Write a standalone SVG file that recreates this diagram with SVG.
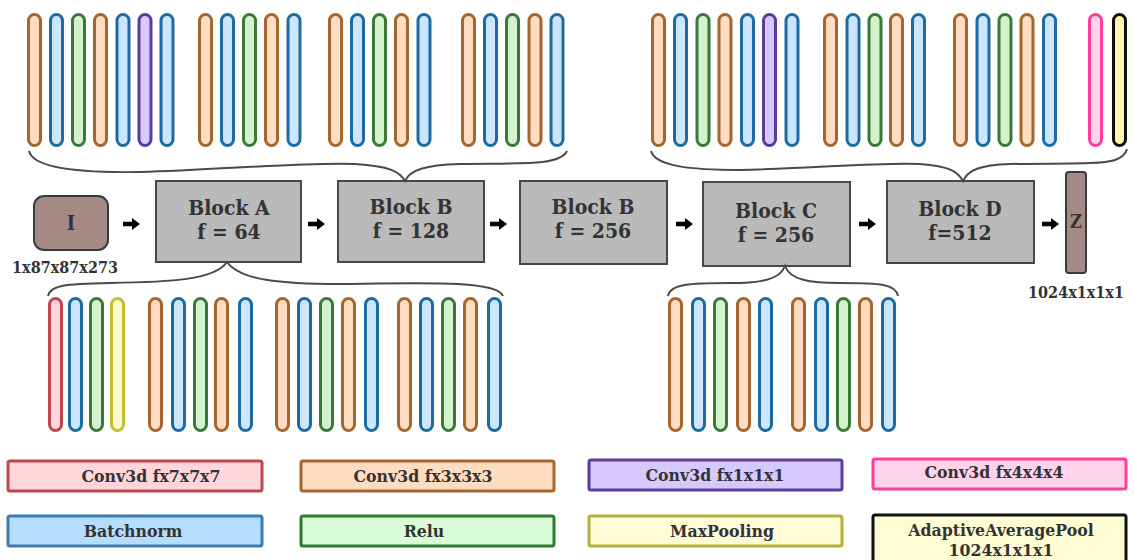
<svg xmlns="http://www.w3.org/2000/svg" width="1134" height="560" viewBox="0 0 1134 560">
<style>
text{font-family:"DejaVu Serif Condensed","DejaVu Serif","Liberation Serif",serif;font-stretch:condensed;font-weight:bold;fill:#333;text-anchor:middle}
.bar{stroke-width:3}
.o{fill:#ffdcc2;stroke:#a3672f}
.b{fill:#cce7fd;stroke:#1e6ba3}
.g{fill:#d3f3cf;stroke:#3b783a}
.p{fill:#d6c9ff;stroke:#5a3c9a}
.r{fill:#ffd6dc;stroke:#c0464f}
.y{fill:#fffbcf;stroke:#c3bd3a}
.k{fill:#ffd3ea;stroke:#ff3fa0}
.z{fill:#fdf6ae;stroke:#111}
.blk{fill:#bababa;stroke:#474747;stroke-width:2}
.t1{font-size:21px}
.leg{stroke-width:3}
.lt{font-size:17.5px}
.brace{fill:none;stroke:#4a4a4a;stroke-width:2}
.arr{fill:#000}
</style>
<defs>
<rect id="barT" x="0" y="0" width="12" height="131" rx="6"/>
<rect id="barB" x="0" y="0" width="12" height="132" rx="6"/>
<path id="ar" d="M0,-2.2 L9,-2.2 L9,-6 L17,0 L9,6 L9,2.2 L0,2.2 Z"/>
</defs>

<g id="top-left-layers" class="bar">
<use href="#barT" class="o" x="28.5" y="14.5"/>
<use href="#barT" class="b" x="50.5" y="14.5"/>
<use href="#barT" class="g" x="72.5" y="14.5"/>
<use href="#barT" class="o" x="94.5" y="14.5"/>
<use href="#barT" class="b" x="117" y="14.5"/>
<use href="#barT" class="p" x="139" y="14.5"/>
<use href="#barT" class="b" x="161" y="14.5"/>
<use href="#barT" class="o" x="199.5" y="14.5"/>
<use href="#barT" class="b" x="221.5" y="14.5"/>
<use href="#barT" class="g" x="243.5" y="14.5"/>
<use href="#barT" class="o" x="265.5" y="14.5"/>
<use href="#barT" class="b" x="288" y="14.5"/>
<use href="#barT" class="o" x="329.5" y="14.5"/>
<use href="#barT" class="b" x="351.5" y="14.5"/>
<use href="#barT" class="g" x="373.5" y="14.5"/>
<use href="#barT" class="o" x="395.5" y="14.5"/>
<use href="#barT" class="b" x="418" y="14.5"/>
<use href="#barT" class="o" x="462.5" y="14.5"/>
<use href="#barT" class="b" x="484.5" y="14.5"/>
<use href="#barT" class="g" x="506.5" y="14.5"/>
<use href="#barT" class="o" x="529" y="14.5"/>
<use href="#barT" class="b" x="551" y="14.5"/>
</g>

<g id="top-right-layers" class="bar">
<use href="#barT" class="o" x="652.5" y="14.5"/>
<use href="#barT" class="b" x="674.5" y="14.5"/>
<use href="#barT" class="g" x="697" y="14.5"/>
<use href="#barT" class="o" x="719" y="14.5"/>
<use href="#barT" class="b" x="741.5" y="14.5"/>
<use href="#barT" class="p" x="763.5" y="14.5"/>
<use href="#barT" class="b" x="786" y="14.5"/>
<use href="#barT" class="o" x="824.5" y="14.5"/>
<use href="#barT" class="b" x="847" y="14.5"/>
<use href="#barT" class="g" x="869" y="14.5"/>
<use href="#barT" class="o" x="890.5" y="14.5"/>
<use href="#barT" class="b" x="912.5" y="14.5"/>
<use href="#barT" class="o" x="954.5" y="14.5"/>
<use href="#barT" class="b" x="977" y="14.5"/>
<use href="#barT" class="g" x="999" y="14.5"/>
<use href="#barT" class="o" x="1021" y="14.5"/>
<use href="#barT" class="b" x="1043.5" y="14.5"/>
<use href="#barT" class="k" x="1089.5" y="14.5"/>
<use href="#barT" class="z" x="1113.5" y="14.5"/>
</g>

<g id="bottom-left-layers" class="bar">
<use href="#barB" class="r" x="49.5" y="298.5"/>
<use href="#barB" class="b" x="69.5" y="298.5"/>
<use href="#barB" class="g" x="90.5" y="298.5"/>
<use href="#barB" class="y" x="111.5" y="298.5"/>
<use href="#barB" class="o" x="149.5" y="298.5"/>
<use href="#barB" class="b" x="172.5" y="298.5"/>
<use href="#barB" class="g" x="194.5" y="298.5"/>
<use href="#barB" class="o" x="215.5" y="298.5"/>
<use href="#barB" class="b" x="239.5" y="298.5"/>
<use href="#barB" class="o" x="276.5" y="298.5"/>
<use href="#barB" class="b" x="298.5" y="298.5"/>
<use href="#barB" class="g" x="320.5" y="298.5"/>
<use href="#barB" class="o" x="342.5" y="298.5"/>
<use href="#barB" class="b" x="365.5" y="298.5"/>
<use href="#barB" class="o" x="398.5" y="298.5"/>
<use href="#barB" class="b" x="420.5" y="298.5"/>
<use href="#barB" class="g" x="442.5" y="298.5"/>
<use href="#barB" class="o" x="464.5" y="298.5"/>
<use href="#barB" class="b" x="488.5" y="298.5"/>
</g>

<g id="bottom-right-layers" class="bar">
<use href="#barB" class="o" x="669.5" y="298.5"/>
<use href="#barB" class="b" x="692.5" y="298.5"/>
<use href="#barB" class="g" x="714.5" y="298.5"/>
<use href="#barB" class="o" x="737.5" y="298.5"/>
<use href="#barB" class="b" x="759.5" y="298.5"/>
<use href="#barB" class="o" x="792.5" y="298.5"/>
<use href="#barB" class="b" x="815.5" y="298.5"/>
<use href="#barB" class="g" x="837.5" y="298.5"/>
<use href="#barB" class="o" x="859.5" y="298.5"/>
<use href="#barB" class="b" x="882.5" y="298.5"/>
</g>

<g id="node-I">
<rect x="34" y="196" width="74" height="54" rx="10" fill="#a58985" stroke="#3a3a3a" stroke-width="2"/>
<text x="71" y="230" font-size="20">I</text>
<text x="65" y="273" font-size="16">1x87x87x273</text>
</g>
<g id="node-blockA">
<rect class="blk" x="156" y="181" width="145" height="81"/>
<text class="t1" x="229" y="215">Block A</text>
<text class="t1" x="229" y="239">f = 64</text>
</g>
<g id="node-blockB1">
<rect class="blk" x="338" y="181" width="146" height="81"/>
<text class="t1" x="411" y="214">Block B</text>
<text class="t1" x="411" y="238">f = 128</text>
</g>
<g id="node-blockB2">
<rect class="blk" x="520" y="181" width="147" height="83"/>
<text class="t1" x="593" y="214">Block B</text>
<text class="t1" x="593" y="238">f = 256</text>
</g>
<g id="node-blockC">
<rect class="blk" x="703" y="182" width="147" height="84"/>
<text class="t1" x="776" y="218">Block C</text>
<text class="t1" x="776" y="242">f = 256</text>
</g>
<g id="node-blockD">
<rect class="blk" x="887" y="181" width="147" height="82"/>
<text class="t1" x="960" y="216">Block D</text>
<text class="t1" x="960" y="240">f=512</text>
</g>
<g id="node-Z">
<rect x="1066" y="172" width="20" height="101" rx="3" fill="#a58985" stroke="#3a3a3a" stroke-width="2"/>
<text x="1076" y="228" font-size="18">Z</text>
<text x="1076" y="298" font-size="16">1024x1x1x1</text>
</g>

<g id="connectors">
<use href="#ar" class="arr" x="123" y="224"/>
<use href="#ar" class="arr" x="308" y="224"/>
<use href="#ar" class="arr" x="490" y="224"/>
<use href="#ar" class="arr" x="676" y="224"/>
<use href="#ar" class="arr" x="859" y="224"/>
<use href="#ar" class="arr" x="1042" y="224"/>
<path class="brace" d="M29,151 C33,168 80,173 140,172 C220,170 300,162 355,164 C390,166 400,172 405,181 C410,170 425,165 460,164 C520,163 560,166 567,151"/>
<path class="brace" d="M651,151 C655,166 690,170 740,170 C820,168 880,162 920,164 C950,166 958,172 963,181 C968,170 980,165 1010,164 C1060,163 1100,165 1115,160 C1123,157 1126,153 1127,149"/>
<path class="brace" d="M48,296 C50,285 65,284 110,283 C170,282 215,280 227,262 C240,280 280,284 340,284 C420,283 497,280 503,296"/>
<path class="brace" d="M668,296 C670,284 690,283 730,283 C760,283 780,280 785,266 C790,280 810,283 840,283 C880,283 896,284 898,296"/>
</g>

<g id="legend-conv7">
<rect class="leg r" x="8" y="461" width="254" height="30" rx="2"/>
<text class="lt" x="151" y="482">Conv3d fx7x7x7</text>
</g>
<g id="legend-conv3">
<rect class="leg o" x="301" y="461" width="253" height="30" rx="2"/>
<text class="lt" x="423" y="482">Conv3d fx3x3x3</text>
</g>
<g id="legend-conv1">
<rect class="leg p" x="589" y="460" width="253" height="30" rx="2"/>
<text class="lt" x="715" y="481">Conv3d fx1x1x1</text>
</g>
<g id="legend-conv4">
<rect class="leg k" x="873" y="459" width="253" height="30" rx="2"/>
<text class="lt" x="994" y="478">Conv3d fx4x4x4</text>
</g>
<g id="legend-bn">
<rect class="leg" x="8" y="516" width="254" height="30" rx="2" fill="#b5ddfd" stroke="#3c7cb0"/>
<text class="lt" x="133" y="537">Batchnorm</text>
</g>
<g id="legend-relu">
<rect class="leg g" x="301" y="516" width="253" height="30" rx="2" style="fill:#d9fcd6;stroke:#2e7a30"/>
<text class="lt" x="424" y="537">Relu</text>
</g>
<g id="legend-maxpool">
<rect class="leg y" x="589" y="516" width="253" height="30" rx="2" style="fill:#fffbd6;stroke:#b5b03a"/>
<text class="lt" x="722" y="537">MaxPooling</text>
</g>
<g id="legend-adaptive">
<rect class="leg" x="873" y="515" width="253" height="50" rx="2" fill="#fffcd4" stroke="#111"/>
<text class="lt" x="1001" y="536">AdaptiveAveragePool</text>
<text class="lt" x="1001" y="556">1024x1x1x1</text>
</g>
</svg>
